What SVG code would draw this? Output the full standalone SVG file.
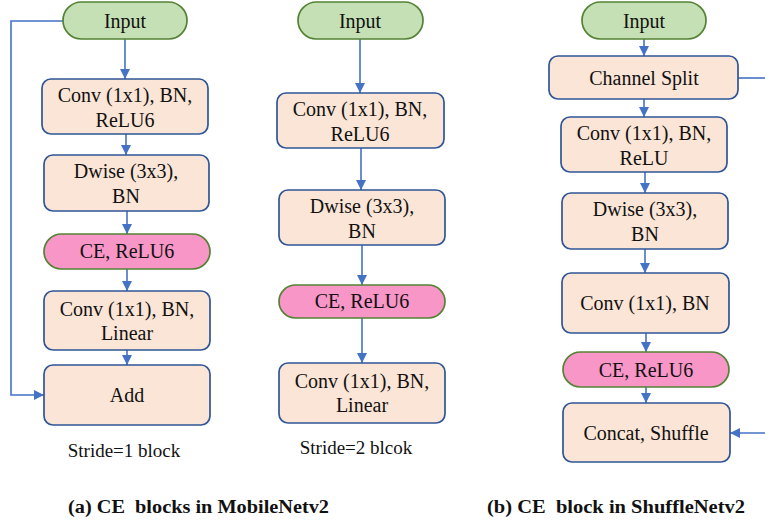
<svg xmlns="http://www.w3.org/2000/svg" width="765" height="525" viewBox="0 0 765 525">
  <defs>
    <marker id="arrow" viewBox="0 0 10 10" refX="10" refY="5" markerWidth="10" markerHeight="10" markerUnits="userSpaceOnUse" orient="auto">
      <path d="M0,0 L10,5 L0,10 z" fill="#4472C4"/>
    </marker>
    <style>
      .box { fill: #FBE5D6; stroke: #2F5597; stroke-width: 1.7; }
      .inp { fill: #C5E0B4; stroke: #548235; stroke-width: 1.7; }
      .ce { fill: #F896C8; stroke: #548235; stroke-width: 1.7; }
      text { font-family: 'Liberation Serif', 'Times New Roman', 'DejaVu Serif', serif; fill: #111; }
      .lbl { font-size: 20px; text-anchor: middle; }
      .note { font-size: 19px; text-anchor: middle; }
      .cap { font-size: 18px; font-weight: bold; white-space: pre; }
      .wire { fill: none; stroke: #4472C4; stroke-width: 1.6; }
      .wa { fill: none; stroke: #4472C4; stroke-width: 1.6; marker-end: url(#arrow); }
    </style>
  </defs>

  <!-- Connectors -->
  <g id="connectors">
    <!-- stride 1 block -->
    <line class="wa" x1="125" y1="39" x2="125" y2="79"/>
    <line class="wa" x1="126" y1="134" x2="126" y2="155"/>
    <line class="wa" x1="127" y1="211" x2="127" y2="234"/>
    <line class="wa" x1="127" y1="269" x2="127" y2="291"/>
    <line class="wa" x1="127" y1="350" x2="127" y2="365"/>
    <path class="wa" d="M63,21 H11 V395 H44"/>
    <!-- stride 2 block -->
    <line class="wa" x1="360" y1="39" x2="360" y2="93"/>
    <line class="wa" x1="361" y1="148" x2="361" y2="190"/>
    <line class="wa" x1="362" y1="245" x2="362" y2="285"/>
    <line class="wa" x1="362" y1="318" x2="362" y2="363"/>
    <!-- shufflenet block -->
    <line class="wa" x1="644" y1="39" x2="644" y2="56"/>
    <line class="wa" x1="644" y1="99" x2="644" y2="117"/>
    <line class="wa" x1="645" y1="172" x2="645" y2="193"/>
    <line class="wa" x1="645" y1="249" x2="645" y2="273"/>
    <line class="wa" x1="646" y1="333" x2="646" y2="352"/>
    <line class="wa" x1="646" y1="387" x2="646" y2="403"/>
    <line class="wire" x1="738" y1="78" x2="765" y2="78"/>
    <line class="wa" x1="765" y1="433" x2="730" y2="433"/>
  </g>

  <!-- (a) stride 1 block -->
  <g id="s1-input"><rect class="inp" x="63" y="2" width="124" height="37" rx="18.5"/><text class="lbl" x="125" y="28">Input</text></g>
  <g id="s1-conv1"><rect class="box" x="42" y="79" width="166" height="55" rx="9"/><text class="lbl" x="125" y="102">Conv (1x1), BN,</text><text class="lbl" x="125" y="127">ReLU6</text></g>
  <g id="s1-dwise"><rect class="box" x="44" y="155" width="165" height="56" rx="9"/><text class="lbl" x="126" y="178">Dwise (3x3),</text><text class="lbl" x="126" y="203">BN</text></g>
  <g id="s1-ce"><rect class="ce" x="44" y="234" width="166" height="35" rx="17.5"/><text class="lbl" x="127" y="258">CE, ReLU6</text></g>
  <g id="s1-conv2"><rect class="box" x="44" y="291" width="166" height="59" rx="9"/><text class="lbl" x="127" y="316">Conv (1x1), BN,</text><text class="lbl" x="127" y="340">Linear</text></g>
  <g id="s1-add"><rect class="box" x="44" y="365" width="166" height="60" rx="9"/><text class="lbl" x="127" y="402">Add</text></g>
  <text class="note" x="124" y="457">Stride=1 block</text>

  <!-- (a) stride 2 block -->
  <g id="s2-input"><rect class="inp" x="298" y="2" width="125" height="37" rx="18.5"/><text class="lbl" x="360" y="28">Input</text></g>
  <g id="s2-conv1"><rect class="box" x="277" y="93" width="167" height="55" rx="9"/><text class="lbl" x="360" y="116">Conv (1x1), BN,</text><text class="lbl" x="360" y="141">ReLU6</text></g>
  <g id="s2-dwise"><rect class="box" x="279" y="190" width="166" height="55" rx="9"/><text class="lbl" x="362" y="213">Dwise (3x3),</text><text class="lbl" x="362" y="238">BN</text></g>
  <g id="s2-ce"><rect class="ce" x="279" y="285" width="166" height="33" rx="16.5"/><text class="lbl" x="362" y="308">CE, ReLU6</text></g>
  <g id="s2-conv2"><rect class="box" x="279" y="363" width="166" height="60" rx="9"/><text class="lbl" x="362" y="388">Conv (1x1), BN,</text><text class="lbl" x="362" y="412">Linear</text></g>
  <text class="note" x="356" y="454">Stride=2 blcok</text>

  <!-- (b) shufflenet block -->
  <g id="sh-input"><rect class="inp" x="582" y="2" width="124" height="37" rx="18.5"/><text class="lbl" x="644" y="28">Input</text></g>
  <g id="sh-split"><rect class="box" x="549" y="56" width="189" height="43" rx="9"/><text class="lbl" x="644" y="85">Channel Split</text></g>
  <g id="sh-conv1"><rect class="box" x="561" y="117" width="166" height="55" rx="9"/><text class="lbl" x="644" y="140">Conv (1x1), BN,</text><text class="lbl" x="644" y="165">ReLU</text></g>
  <g id="sh-dwise"><rect class="box" x="562" y="193" width="166" height="56" rx="9"/><text class="lbl" x="645" y="216">Dwise (3x3),</text><text class="lbl" x="645" y="241">BN</text></g>
  <g id="sh-conv2"><rect class="box" x="562" y="273" width="167" height="60" rx="9"/><text class="lbl" x="645" y="310">Conv (1x1), BN</text></g>
  <g id="sh-ce"><rect class="ce" x="563" y="352" width="166" height="35" rx="17.5"/><text class="lbl" x="646" y="377">CE, ReLU6</text></g>
  <g id="sh-concat"><rect class="box" x="563" y="403" width="167" height="59" rx="9"/><text class="lbl" x="646" y="440">Concat, Shuffle</text></g>

  <!-- captions -->
  <text class="cap" x="68" y="513" textLength="261" lengthAdjust="spacingAndGlyphs">(a) CE  blocks in MobileNetv2</text>
  <text class="cap" x="487" y="513" textLength="258" lengthAdjust="spacingAndGlyphs">(b) CE  block in ShuffleNetv2</text>
</svg>
